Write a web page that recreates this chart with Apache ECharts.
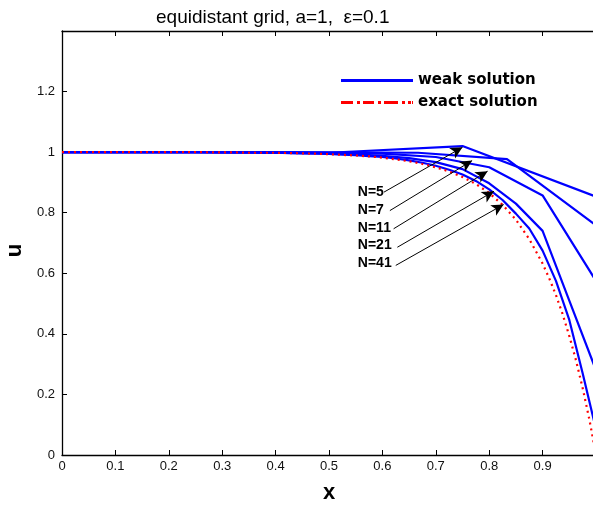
<!DOCTYPE html>
<html>
<head>
<meta charset="utf-8">
<script src="https://cdn.jsdelivr.net/npm/echarts@6/dist/echarts.min.js"></script>
<style>
html,body{margin:0;padding:0;background:#fff;}
#chart{width:593px;height:506px;}
</style>
</head>
<body>
<div id="chart"></div>
<script>
// ---- data ----
const titleText = 'equidistant grid, a=1,  \u03b5=0.1';
const xTickLabels = ['0','0.1','0.2','0.3','0.4','0.5','0.6','0.7','0.8','0.9','1'];
const yTickLabels = ['0','0.2','0.4','0.6','0.8','1','1.2','1.4'];

// weak solutions on equidistant grids with N nodes
const weakN = [5, 7, 11, 21, 41];
const u5  = [1, 1.000, 0.998, 1.020, 0.853];
const u7  = [1, 1.000, 1.000, 0.999, 0.998, 0.977, 0.758];
const u11 = [1, 1, 1, 1, 0.999, 0.998, 0.995, 0.984, 0.950, 0.857, 0.575];
const u21 = [1, 1, 1, 1, 1, 1, 0.999, 0.999, 0.998, 0.997, 0.996, 0.993, 0.988, 0.980, 0.967, 0.944, 0.897, 0.830, 0.740, 0.510, 0.280];
const u41 = [1, 1, 1, 1, 1, 1, 1, 1, 1, 1, 1, 1,
             0.999, 0.999, 0.999, 0.998, 0.998, 0.997, 0.996, 0.995, 0.994, 0.992, 0.990, 0.987, 0.984,
             0.979, 0.973, 0.965, 0.955, 0.942, 0.926, 0.905, 0.877, 0.842, 0.797, 0.748, 0.675, 0.575,
             0.446, 0.270, 0.085];

// exact solution
const exactX = [0, 0.05, 0.1, 0.15, 0.2, 0.25, 0.3, 0.325, 0.35, 0.375, 0.4, 0.425, 0.45, 0.475, 0.5, 0.525, 0.55, 0.575, 0.6, 0.625, 0.65, 0.675, 0.7, 0.725, 0.75, 0.775, 0.8, 0.825, 0.85, 0.875, 0.9, 0.9125, 0.925, 0.9375, 0.95, 0.9625, 0.975, 0.9875, 1.0];
const exactU = [1, 1, 1, 1, 1, 1, 0.999, 0.999, 0.998, 0.998, 0.998, 0.997, 0.996, 0.995, 0.993, 0.991, 0.989, 0.986, 0.982, 0.976, 0.970, 0.961, 0.950, 0.936, 0.918, 0.895, 0.865, 0.826, 0.777, 0.713, 0.632, 0.583, 0.528, 0.465, 0.393, 0.313, 0.221, 0.118, 0];

// annotations
const annLabels = ['N=5', 'N=7', 'N=11', 'N=21', 'N=41'];
const annTextPos = [[0.554, 0.868], [0.554, 0.810], [0.554, 0.750], [0.554, 0.692], [0.554, 0.635]];
const annTail = [[0.603, 0.868], [0.614, 0.807], [0.621, 0.747], [0.628, 0.686], [0.625, 0.626]];
const annTip  = [[0.750, 1.016], [0.768, 0.972], [0.797, 0.937], [0.809, 0.871], [0.827, 0.827]];

// ---- chart ----
const weakU = [u5, u7, u11, u21, u41];
const weakSeries = weakU.map((arr, k) => ({
  name: 'weak solution',
  type: 'line',
  showSymbol: false,
  symbol: 'none',
  data: arr.map((v, i) => [i / (weakN[k] - 1), v]),
  lineStyle: { color: '#0000ff', width: 2.2 },
  itemStyle: { color: '#0000ff' },
  z: 2
}));

const exactSeries = {
  name: 'exact solution',
  type: 'line',
  showSymbol: false,
  symbol: 'none',
  data: exactX.map((x, i) => [x, exactU[i]]),
  lineStyle: { color: '#ff0000', width: 2.2, type: [2, 4] },
  itemStyle: { color: '#ff0000' },
  z: 3,
  markLine: {
    silent: true,
    symbol: ['none', 'arrow'],
    symbolSize: [9, 12],
    lineStyle: { color: '#000', width: 1, type: 'solid' },
    label: { show: false },
    data: annTail.map((t, i) => [{ coord: t }, { coord: annTip[i] }])
  },
  markPoint: {
    silent: true,
    symbol: 'circle',
    symbolSize: 0,
    label: {
      show: true,
      position: 'right',
      distance: 0,
      formatter: '{b}',
      color: '#000',
      fontFamily: 'Liberation Sans, Arial, sans-serif',
      fontWeight: 'bold',
      fontSize: 14
    },
    data: annLabels.map((l, i) => ({ name: l, coord: annTextPos[i] }))
  }
};

const axisCommonX = {
  type: 'value', min: 0, max: 1, interval: 0.1,
  axisLine: { show: true, onZero: false, lineStyle: { color: '#000', width: 1.3 } },
  axisTick: { show: true, inside: true, length: 5, lineStyle: { color: '#000', width: 1 } },
  splitLine: { show: false }
};

const chart = echarts.init(document.getElementById('chart'), null, { renderer: 'canvas' });
chart.setOption({
  animation: false,
  backgroundColor: '#fff',
  title: {
    text: titleText,
    left: 151,
    top: 3,
    textStyle: { fontFamily: 'Liberation Sans, Arial, sans-serif', fontWeight: 'normal', fontSize: 19, color: '#000' }
  },
  legend: {
    left: 336,
    top: 67,
    orient: 'vertical',
    selectedMode: false,
    itemWidth: 72,
    itemHeight: 3,
    itemGap: 5,
    textStyle: {
      fontFamily: 'DejaVu Sans, sans-serif', fontWeight: 'bold', fontSize: 15, color: '#000',
      padding: [0, 0, 0, 0], lineHeight: 17
    },
    data: [
      { name: 'weak solution', icon: 'rect', itemStyle: { color: '#0000ff' } },
      { name: 'exact solution', icon: 'path://M0,0h12v3h-12z M16,0h3v3h-3z M22,0h11v3h-11z M37,0h3v3h-3z M43,0h14v3h-14z M61,0h3v3h-3z M67,0h3v3h-3z M71,0h1v3h-1z', itemStyle: { color: '#ff0000' } }
    ]
  },
  grid: { left: 62, right: -3, top: 31, bottom: 51, containLabel: false, outerBoundsMode: 'none' },
  xAxis: [
    Object.assign({}, axisCommonX, {
      position: 'bottom',
      name: 'x',
      nameLocation: 'middle',
      nameGap: 27,
      nameTextStyle: { fontFamily: 'Liberation Sans, Arial, sans-serif', fontWeight: 'bold', fontSize: 22, color: '#000' },
      axisLabel: {
        show: true, margin: 5, color: '#111',
        fontFamily: 'Liberation Sans, Arial, sans-serif', fontSize: 13,
        showMaxLabel: false,
        formatter: v => xTickLabels[Math.round(v * 10)]
      }
    }),
    Object.assign({}, axisCommonX, {
      position: 'top',
      axisLabel: { show: false }
    })
  ],
  yAxis: [{
    type: 'value', min: 0, max: 1.4, interval: 0.2,
    name: 'u',
    nameLocation: 'middle',
    nameGap: 36,
    nameRotate: 90,
    nameTextStyle: { fontFamily: 'Liberation Sans, Arial, sans-serif', fontWeight: 'bold', fontSize: 22, color: '#000', padding: [0, 15, 0, 0] },
    axisLine: { show: true, onZero: false, lineStyle: { color: '#000', width: 1.3 } },
    axisTick: { show: true, inside: true, length: 5, lineStyle: { color: '#000', width: 1 } },
    splitLine: { show: false },
    axisLabel: {
      show: true, margin: 7, color: '#111',
      fontFamily: 'Liberation Sans, Arial, sans-serif', fontSize: 13,
      showMaxLabel: false,
      formatter: v => yTickLabels[Math.round(v * 5)]
    }
  }],
  series: weakSeries.concat([exactSeries])
});
</script>
</body>
</html>
